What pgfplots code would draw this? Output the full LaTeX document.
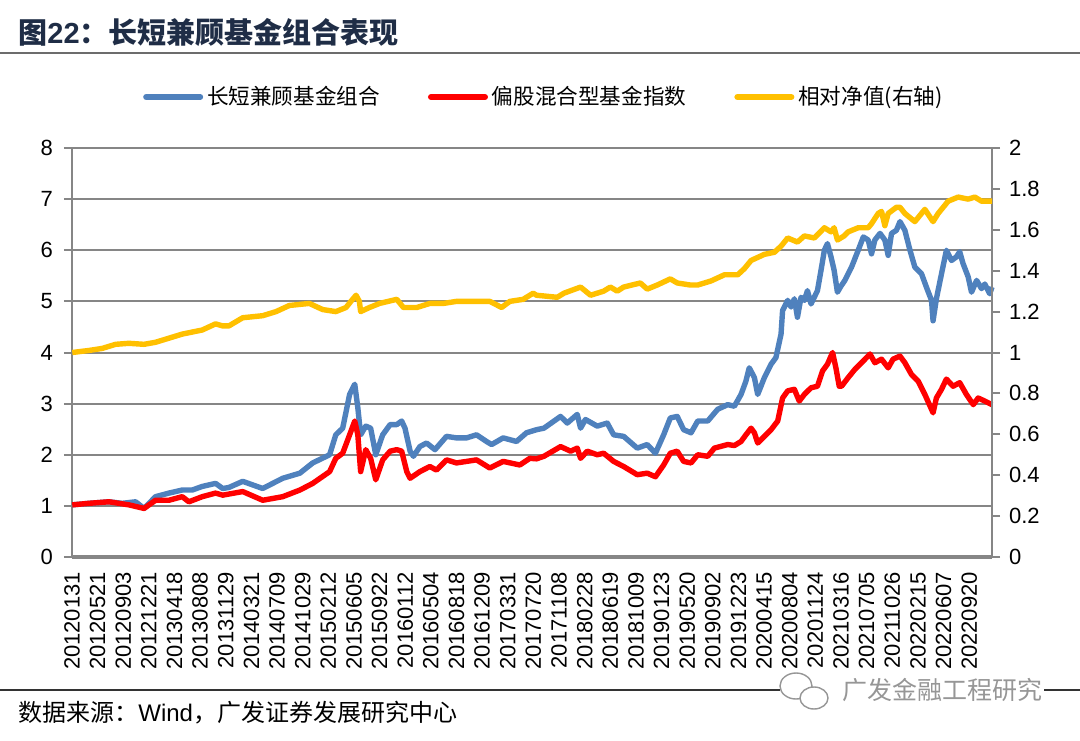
\documentclass[border=0pt]{standalone}
\usepackage{fontspec}
\setmainfont{Liberation Sans}
\newfontfamily\cjk{Noto Sans CJK SC}
\usepackage{pgfplots}
\pgfplotsset{compat=1.18}
\definecolor{cblue}{RGB}{79,129,189}
\definecolor{cred}{RGB}{255,0,0}
\definecolor{cyel}{RGB}{255,192,0}
\definecolor{cgrid}{RGB}{134,134,134}
\definecolor{ctitle}{RGB}{31,45,70}
\definecolor{cwm}{RGB}{150,150,150}

\pgfplotstableread{
x y
0.01 1.02
0.66 1.05
1.44 1.08
1.96 1.05
2.48 1.08
2.81 0.95
3.26 1.18
3.78 1.25
4.30 1.31
4.69 1.31
5.08 1.38
5.60 1.44
5.88 1.34
6.12 1.36
6.66 1.48
7.44 1.34
8.22 1.54
8.89 1.64
9.39 1.84
10.05 2.00
10.29 2.39
10.56 2.52
10.83 3.18
11.03 3.38
11.15 2.92
11.26 2.39
11.46 2.56
11.65 2.52
11.85 2.00
12.12 2.39
12.41 2.59
12.67 2.59
12.86 2.66
12.99 2.52
13.19 2.07
13.32 1.97
13.57 2.16
13.83 2.23
14.16 2.10
14.61 2.36
15.00 2.33
15.39 2.33
15.78 2.39
16.17 2.26
16.37 2.20
16.82 2.33
17.34 2.26
17.73 2.43
18.12 2.49
18.41 2.52
19.06 2.75
19.32 2.62
19.71 2.79
19.84 2.52
20.03 2.69
20.49 2.56
20.88 2.62
21.13 2.39
21.52 2.36
22.05 2.13
22.44 2.20
22.76 2.03
23.08 2.39
23.34 2.72
23.61 2.75
23.86 2.49
24.15 2.43
24.41 2.66
24.80 2.66
25.19 2.89
25.58 2.98
25.84 2.95
26.10 3.18
26.29 3.44
26.42 3.70
26.62 3.51
26.75 3.18
27.01 3.51
27.27 3.77
27.46 3.90
27.66 4.36
27.72 4.82
27.92 5.02
28.05 4.89
28.18 5.05
28.30 4.69
28.44 5.08
28.57 5.02
28.69 5.21
28.83 4.95
29.08 5.21
29.22 5.61
29.35 6.00
29.47 6.13
29.61 5.87
29.73 5.61
29.86 5.18
30.00 5.30
30.15 5.41
30.41 5.67
30.67 6.00
30.87 6.26
31.06 6.20
31.19 5.93
31.32 6.20
31.52 6.33
31.71 6.20
31.84 5.90
31.97 6.33
32.16 6.39
32.30 6.56
32.49 6.39
32.69 6.00
32.88 5.67
33.14 5.54
33.33 5.28
33.53 5.02
33.59 4.62
33.72 5.05
33.92 5.54
34.11 6.00
34.31 5.80
34.50 5.87
34.63 5.97
34.76 5.74
34.96 5.48
35.09 5.18
35.29 5.41
35.48 5.25
35.61 5.34
35.80 5.15
35.89 5.28
}\blueT

\pgfplotstableread{
x y
0.01 1.02
0.66 1.05
1.44 1.08
2.22 1.02
2.81 0.95
3.26 1.11
3.78 1.11
4.30 1.18
4.56 1.08
5.08 1.18
5.60 1.25
5.88 1.21
6.66 1.28
7.44 1.11
8.22 1.18
8.89 1.31
9.39 1.44
10.05 1.67
10.29 1.93
10.56 2.03
10.83 2.39
11.03 2.66
11.15 2.39
11.26 1.67
11.46 2.10
11.65 1.93
11.85 1.51
12.12 1.90
12.41 2.07
12.67 2.10
12.86 2.07
13.06 1.67
13.19 1.54
13.57 1.67
13.96 1.77
14.22 1.70
14.61 1.90
15.00 1.84
15.39 1.87
15.78 1.90
16.30 1.74
16.82 1.87
17.47 1.80
17.86 1.93
18.12 1.92
18.41 1.97
19.06 2.16
19.45 2.07
19.71 2.13
19.84 1.93
20.10 2.07
20.49 2.00
20.74 2.03
21.13 1.87
21.52 1.77
22.05 1.61
22.44 1.64
22.76 1.57
23.08 1.80
23.34 2.03
23.61 2.07
23.86 1.87
24.15 1.84
24.41 2.00
24.80 1.97
25.06 2.13
25.58 2.20
25.84 2.18
26.10 2.26
26.29 2.39
26.49 2.52
26.62 2.43
26.75 2.23
27.01 2.36
27.27 2.49
27.53 2.66
27.72 3.11
27.92 3.25
28.18 3.28
28.37 3.05
28.57 3.18
28.83 3.31
29.08 3.34
29.28 3.64
29.47 3.77
29.67 4.00
29.80 3.70
29.93 3.34
30.02 3.34
30.28 3.51
30.54 3.67
30.80 3.80
31.13 3.97
31.32 3.80
31.58 3.87
31.84 3.70
32.03 3.87
32.30 3.93
32.49 3.80
32.75 3.57
33.01 3.44
33.27 3.18
33.59 2.82
33.72 3.11
33.92 3.28
34.11 3.48
34.37 3.34
34.63 3.41
34.89 3.18
35.16 2.98
35.35 3.11
35.61 3.05
35.89 2.98
}\redT

\pgfplotstableread{
x y
0.01 1.00
0.66 1.01
1.18 1.02
1.70 1.04
2.22 1.045
2.81 1.04
3.26 1.05
3.78 1.07
4.30 1.09
4.69 1.10
5.08 1.11
5.60 1.14
5.88 1.13
6.12 1.13
6.66 1.17
7.44 1.18
7.96 1.20
8.48 1.23
9.26 1.24
9.78 1.21
10.29 1.20
10.69 1.22
10.88 1.25
11.08 1.28
11.21 1.25
11.26 1.20
11.60 1.22
12.00 1.24
12.67 1.26
12.93 1.22
13.45 1.22
13.96 1.24
14.49 1.24
15.00 1.25
15.78 1.25
16.30 1.25
16.76 1.22
17.08 1.25
17.60 1.26
17.99 1.29
18.12 1.28
18.93 1.27
19.19 1.29
19.84 1.32
20.23 1.28
20.74 1.30
21.00 1.32
21.27 1.30
21.52 1.32
22.17 1.34
22.44 1.31
22.83 1.33
23.34 1.36
23.61 1.34
24.12 1.33
24.41 1.33
24.93 1.35
25.45 1.38
25.97 1.38
26.23 1.41
26.49 1.45
27.01 1.48
27.40 1.49
27.66 1.52
27.92 1.56
28.30 1.54
28.57 1.57
28.96 1.56
29.35 1.61
29.61 1.59
29.73 1.61
29.86 1.55
30.12 1.57
30.28 1.59
30.67 1.61
31.06 1.61
31.19 1.63
31.45 1.68
31.58 1.69
31.71 1.62
31.84 1.68
32.16 1.71
32.30 1.71
32.49 1.68
32.88 1.64
33.27 1.70
33.59 1.64
33.79 1.68
34.18 1.74
34.57 1.76
34.96 1.75
35.22 1.76
35.48 1.74
35.89 1.74
}\yelT

\begin{document}
\begin{tikzpicture}
\path[use as bounding box] (0pt,0pt) rectangle (540pt,370pt);
\fill[white] (0pt,0pt) rectangle (540pt,370pt);

% title
\node[anchor=west, text=ctitle, inner sep=0pt] at (9pt,354pt)
  {\fontsize{14.5}{16}\selectfont{\cjk\bfseries 图}{\bfseries 22}{\cjk\bfseries ：长短兼顾基金组合表现}};
\draw[line width=0.9pt, color=gray!85!black] (0pt,343.5pt) -- (540pt,343.5pt);

% bottom
\draw[line width=0.8pt, color=black!80] (0pt,25pt) -- (390pt,25pt);
\draw[line width=0.8pt, color=black!80] (522pt,25pt) -- (540pt,25pt);
\node[anchor=west, inner sep=0pt] at (9pt,13.5pt)
  {\fontsize{12}{14}\selectfont{\cjk 数据来源：}Wind{\cjk ，广发证券发展研究中心}};
% watermark
\draw[cwm, line width=0.7pt] (398pt,27pt) ellipse (8pt and 6.5pt);
\fill[white] (407pt,21pt) ellipse (7pt and 5.5pt);
\draw[cwm, line width=0.7pt] (407pt,21pt) ellipse (7pt and 5.5pt);
\node[anchor=west, inner sep=0pt, text=cwm] at (421pt,25pt)
  {\fontsize{12.5}{14}\selectfont\cjk 广发金融工程研究};

\begin{axis}[
  at={(36pt,91.5pt)}, anchor=south west,
  scale only axis, width=460pt, height=204.5pt,
  xmin=0, xmax=35.89, ymin=0, ymax=8,
  axis x line*=bottom, axis y line*=left,
  x axis line style={-, cgrid, line width=2pt},
  y axis line style={-, cgrid, line width=1pt},
  ytick={0,1,...,8},
  ymajorgrids, major grid style={cgrid, line width=1pt},
  tick align=outside, major tick length=4pt,
  ytick style={cgrid, line width=1pt},
  xtick={0,...,35},
  xtick style={draw=none},
  xticklabels={20120131,20120521,20120903,20121221,20130418,20130808,20131129,20140321,20140709,20141029,20150212,20150605,20150922,20160112,20160504,20160818,20161209,20170331,20170720,20171108,20180228,20180619,20181009,20190123,20190520,20190902,20191223,20200415,20200804,20201124,20210316,20210705,20211026,20220215,20220607,20220920},
  xticklabel style={rotate=90, anchor=east, font=\fontsize{11}{11}\selectfont},
  yticklabel style={font=\fontsize{11}{11}\selectfont, xshift=-2pt},
  /pgf/number format/assume math mode=true,
  clip=false,
]
\addplot[cblue, line width=2.7pt, line join=round, no markers] table[x=x,y=y] {\blueT};
\addplot[cred, line width=2.7pt, line join=round, no markers] table[x=x,y=y] {\redT};
\end{axis}

\begin{axis}[
  at={(36pt,91.5pt)}, anchor=south west,
  scale only axis, width=460pt, height=204.5pt,
  xmin=0, xmax=35.89, ymin=0, ymax=2,
  axis x line=none, xtick=\empty,
  axis y line*=right,
  y axis line style={-, cgrid, line width=1pt},
  ytick={0,0.2,0.4,0.6,0.8,1,1.2,1.4,1.6,1.8,2},
  yticklabels={0,0.2,0.4,0.6,0.8,1,1.2,1.4,1.6,1.8,2},
  tick align=outside, major tick length=4pt,
  ytick style={cgrid, line width=1pt},
  yticklabel style={font=\fontsize{11}{11}\selectfont, xshift=1pt},
  legend style={at={(axis description cs:0.514,1.1247)}, anchor=center,
    draw=none, fill=none, legend columns=3,
    font=\cjk\fontsize{10.8}{12}\selectfont,
    /tikz/every even column/.append style={column sep=22pt}},
  legend image code/.code={\draw[#1, line width=3pt, line cap=round] (0pt,0pt) -- (27pt,0pt);},
  clip=false,
]
\addlegendimage{cblue}
\addlegendentry{长短兼顾基金组合}
\addlegendimage{cred}
\addlegendentry{偏股混合型基金指数}
\addplot[cyel, line width=2.7pt, line join=round, no markers] table[x=x,y=y] {\yelT};
\addlegendentry{相对净值(右轴)}
\end{axis}
\end{tikzpicture}
\end{document}
